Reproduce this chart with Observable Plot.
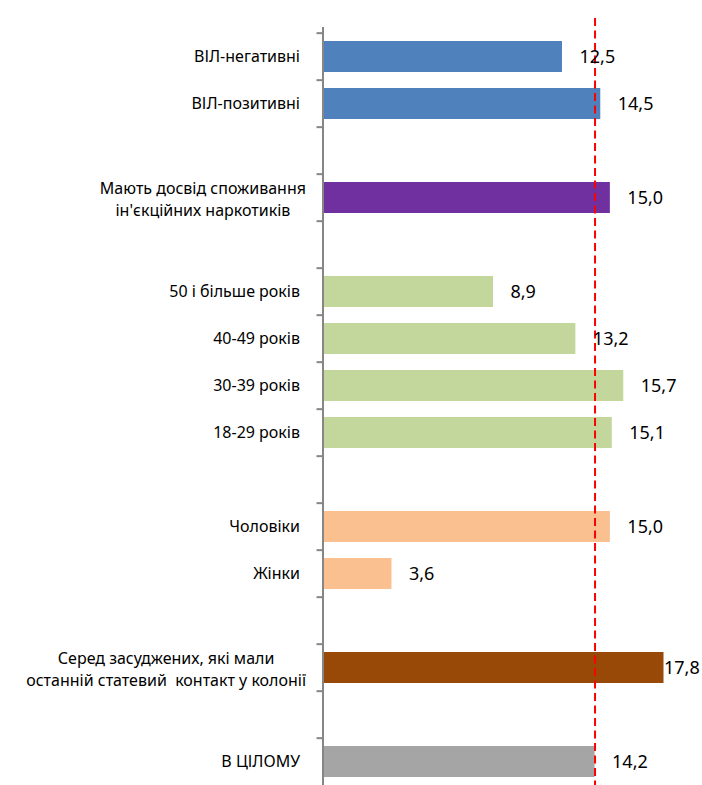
<!DOCTYPE html>
<html>
<head>
<meta charset="utf-8">
<script src="https://cdn.jsdelivr.net/npm/d3@7"></script>
<script src="https://cdn.jsdelivr.net/npm/@observablehq/plot@0.6"></script>
<style>
  html, body { margin: 0; padding: 0; background: #fff; overflow: hidden; }
  #chart svg { display: block; font-family: "Noto Sans", sans-serif; }
</style>
</head>
<body>
<div id="chart"></div>
<script>
// ---- data ----
const categories = [
  "ВІЛ-негативні",
  "ВІЛ-позитивні",
  "",
  "Мають досвід споживання\nін'єкційних наркотиків",
  "",
  "50 і більше років",
  "40-49 років",
  "30-39 років",
  "18-29 років",
  "",
  "Чоловіки",
  "Жінки",
  "",
  "Серед засуджених, які мали\nостанній статевий  контакт у колонії",
  "",
  "В ЦІЛОМУ"
];
const values = [12.5, 14.5, null, 15.0, null, 8.9, 13.2, 15.7, 15.1, null, 15.0, 3.6, null, 17.8, null, 14.2];
const groups = ["hiv", "hiv", null, "idu", null, "age", "age", "age", "age", null, "sex", "sex", null, "colony", null, "total"];
const overallValue = 14.2;

// ---- styles ----
const groupColor = {
  hiv: "#4F81BD",
  idu: "#7030A0",
  age: "#C3D69B",
  sex: "#FAC090",
  colony: "#984807",
  total: "#A5A5A5"
};

const rows = categories.map((label, i) => ({key: i, label, value: values[i], group: groups[i]}));
const bars = rows.filter(d => d.value != null);
const labelled = rows.filter(d => d.label !== "");
const singleLabels = labelled.filter(d => !d.label.includes("\n"));
const multiLabels = labelled.filter(d => d.label.includes("\n"));
const maxValue = d3.max(bars, d => d.value);
const fmt = v => d3.format(".1f")(v).replace(".", ",");

const W = 702, H = 790, mTop = 27, mBottom = 0, mLeft = 322.5, mRight = 38.5;
const step = (H - mTop - mBottom) / categories.length;

const chart = Plot.plot({
  width: W,
  height: H,
  marginTop: mTop,
  marginBottom: mBottom,
  marginLeft: mLeft,
  marginRight: mRight,
  style: {fontFamily: "'Noto Sans', sans-serif", background: "#fff"},
  x: {domain: [0, maxValue], axis: null},
  y: {type: "band", domain: d3.range(categories.length), paddingInner: 0.35, paddingOuter: 0.175},
  color: {type: "identity"},
  marks: [
    Plot.barX(bars, {x: "value", y: "key", fill: d => groupColor[d.group]}),
    Plot.ruleX([overallValue], {stroke: "#FF0000", strokeWidth: 2, strokeDasharray: "8,4.5", insetTop: -9}),
    Plot.ruleX([0], {stroke: "#868686", strokeWidth: 2}),
    Plot.axisY({tickSize: 6, tickFormat: () => "", dy: -step / 2, stroke: "#868686", strokeWidth: 2, label: null}),
    Plot.text(singleLabels, {x: 0, y: "key", text: "label", textAnchor: "end", dx: -23, fontSize: 16, fill: "#000"}),
    Plot.text(multiLabels, {x: 0, y: "key", text: "label", textAnchor: "end", dx: -23, fontSize: 16, fill: "#000", lineHeight: 1.4, className: "multi-label"}),
    Plot.text(bars.filter(d => d.value < maxValue), {x: "value", y: "key", text: d => fmt(d.value), textAnchor: "start", dx: 17, fontSize: 18, fill: "#000"}),
    Plot.text(bars.filter(d => d.value === maxValue), {x: "value", y: "key", text: d => fmt(d.value), textAnchor: "start", dx: 0, fontSize: 18, fill: "#000"})
  ]
});

document.getElementById("chart").appendChild(chart);

// centre the lines of the wrapped category labels on each other (right edge of the widest line kept near the axis)
chart.querySelectorAll(".multi-label text, g.multi-label text").forEach(t => {
  const spans = t.querySelectorAll("tspan");
  if (!spans.length) return;
  let w = 0;
  spans.forEach(s => { w = Math.max(w, s.getComputedTextLength()); });
  t.setAttribute("text-anchor", "middle");
  t.style.textAnchor = "middle";
  spans.forEach(s => s.setAttribute("x", (-w / 2 + 6).toFixed(1)));
});
</script>
</body>
</html>
